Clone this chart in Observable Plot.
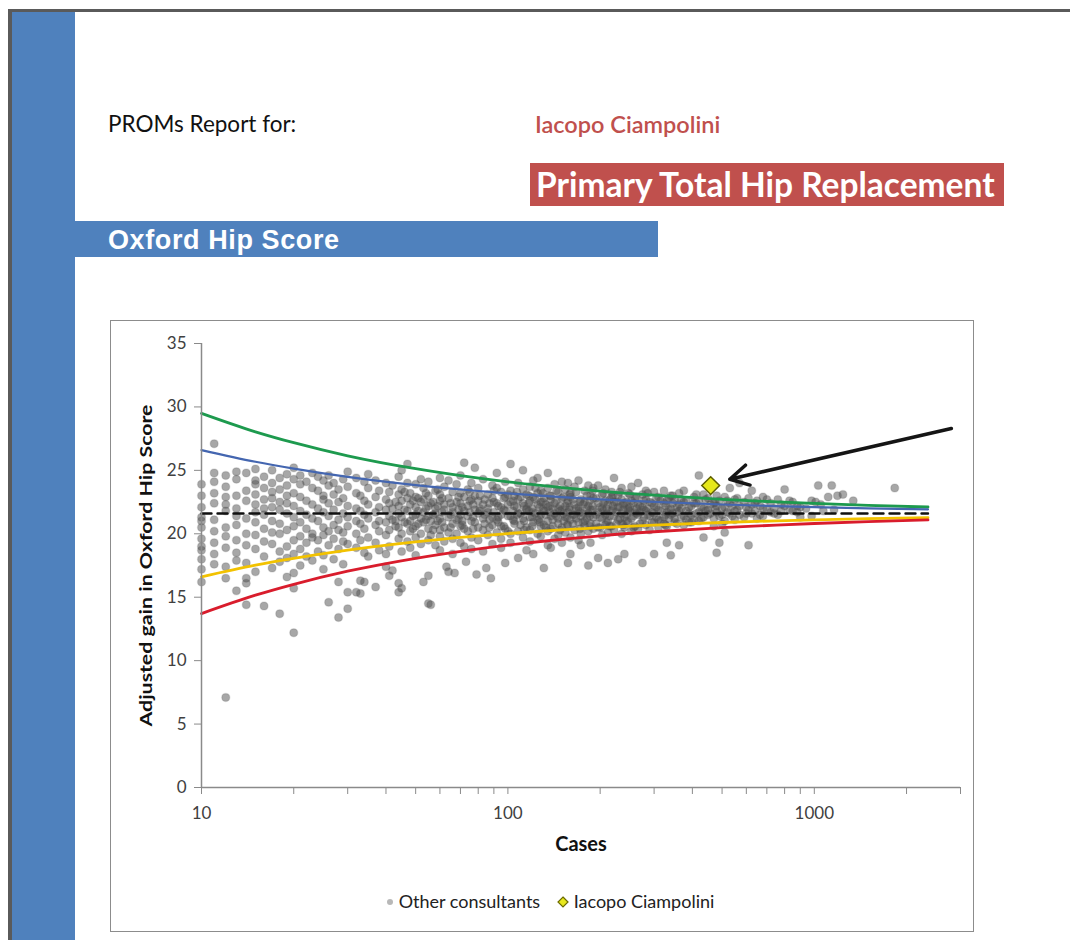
<!DOCTYPE html>
<html>
<head>
<meta charset="utf-8">
<script src="https://cdn.jsdelivr.net/npm/d3@7"></script>
<script src="https://cdn.jsdelivr.net/npm/@observablehq/plot@0.6"></script>
<style>
  html, body { margin: 0; padding: 0; background: #fff; }
  body { width: 1070px; height: 940px; position: relative; overflow: hidden; font-family: "Lato", "Open Sans", sans-serif; }
  .abs { position: absolute; }
  #topline { left: 9px; top: 9px; width: 1061px; height: 3px; background: #5a5a5a; }
  #leftline { left: 8px; top: 9px; width: 4px; height: 931px; background: #5a5a5a; }
  #stripe { left: 12px; top: 12px; width: 63px; height: 928px; background: #4f81bd; }
  #proms { left: 108px; top: 113px; font-size: 22.5px; color: #111; line-height: 1; }
  #name { left: 535px; top: 113px; font-size: 23.5px; color: #c0504d; font-weight: 600; line-height: 1; }
  #proc { left: 530px; top: 163px; width: 474px; height: 43px; background: #c0504d; color: #fff; font-weight: 700; font-size: 33.5px; line-height: 43px; padding-left: 6px; box-sizing: border-box; white-space: nowrap; }
  #score { left: 75px; top: 221px; width: 583px; height: 36px; background: #4f81bd; color: #fff; font-family: "Liberation Sans", Arial, sans-serif; font-weight: 700; font-size: 27px; letter-spacing: 0.6px; line-height: 38px; padding-left: 33px; box-sizing: border-box; }
  #frame { left: 110px; top: 320px; width: 864px; height: 612px; border: 1px solid #8c8c8c; box-sizing: border-box; }
  #chart { left: 110px; top: 320px; }
  #legend { left: 100px; top: 890px; width: 900px; text-align: center; font-size: 18px; color: #222; white-space: nowrap; }
  #legend span.item { margin: 0 6px; }
  #legend svg { vertical-align: middle; margin-right: 5px; position: relative; top: -1px; }
</style>
</head>
<body>
<div class="abs" id="topline"></div>
<div class="abs" id="leftline"></div>
<div class="abs" id="stripe"></div>
<div class="abs" id="proms">PROMs Report for:</div>
<div class="abs" id="name">Iacopo Ciampolini</div>
<div class="abs" id="proc">Primary Total Hip Replacement</div>
<div class="abs" id="score">Oxford Hip Score</div>
<div class="abs" id="frame"></div>
<div class="abs" id="chart"></div>
<div class="abs" id="legend">
  <span class="item"><svg width="8" height="8"><circle cx="4" cy="4" r="3" fill="#9a9a9a" fill-opacity="0.7"></circle></svg>Other consultants</span>
  <span class="item"><svg width="12" height="12"><path d="M6,1L11,6L6,11L1,6Z" fill="#e8e81e" stroke="#6b6b00" stroke-width="1.2"></path></svg>Iacopo Ciampolini</span>
</div>
<script>
// ---- Data ----
const xTickValues = [10,20,30,40,50,60,70,80,90,100,200,300,400,500,600,700,800,900,1000,2000,3000];
const xTickLabels = [10, 100, 1000];
const yTickValues = [0, 5, 10, 15, 20, 25, 30, 35];
const xTitle = "Cases";
const yTitle = "Adjusted gain in Oxford Hip Score";

const meanGain = 21.6;
const limitCases = [10, 15, 20, 30, 50, 75, 100, 150, 200, 300, 500, 750, 1000, 1500, 2350];
const upper998 = [29.49, 28.04, 27.18, 26.15, 25.13, 24.48, 24.09, 23.64, 23.36, 23.04, 22.72, 22.51, 22.39, 22.24, 22.11];
const upper95  = [26.60, 25.68, 25.14, 24.49, 23.84, 23.43, 23.18, 22.89, 22.72, 22.51, 22.31, 22.18, 22.10, 22.01, 21.93];
const lower95  = [16.60, 17.52, 18.06, 18.71, 19.36, 19.77, 20.02, 20.31, 20.48, 20.69, 20.89, 21.02, 21.10, 21.19, 21.27];
const lower998 = [13.71, 15.16, 16.02, 17.05, 18.07, 18.72, 19.11, 19.56, 19.84, 20.16, 20.48, 20.69, 20.81, 20.96, 21.09];

const surgeonName = "Iacopo Ciampolini";
const surgeonCases = [459];
const surgeonGain = [23.8];

// arrow annotation (tail -> head), in data units
const arrowFrom = [2800, 28.3];
const arrowTo = [530, 24.3];

// other consultants: [cases, [adjusted gains ...]]
const otherConsultants = [
  [10, [23.9, 23.0, 22.1, 21.3, 20.5, 19.6, 18.7, 18.0, 17.2, 16.2, 19.0, 21.0]],
  [11, [27.1, 24.1, 23.2, 22.4, 21.1, 20.2, 19.3, 18.4, 17.6, 24.8]],
  [12, [24.6, 23.7, 22.9, 21.8, 20.5, 19.8, 18.9, 17.4, 16.5, 7.1, 22.3]],
  [13, [24.3, 23.0, 22.0, 21.4, 20.7, 19.5, 18.5, 17.9, 15.5, 24.9]],
  [14, [24.8, 23.4, 22.6, 21.2, 20.0, 19.1, 17.7, 16.1, 14.4, 16.5]],
  [15, [24.2, 23.1, 22.3, 21.7, 20.9, 19.9, 18.8, 17.0, 23.9, 25.1]],
  [16, [24.5, 23.6, 22.7, 21.5, 20.4, 19.4, 18.2, 14.3, 22.0]],
  [17, [24.0, 22.8, 22.1, 21.0, 20.1, 19.2, 17.3, 25.0, 23.3]],
  [18, [24.4, 23.5, 22.5, 21.9, 20.8, 20.0, 18.6, 13.7, 17.8]],
  [19, [24.7, 23.8, 22.4, 21.6, 20.3, 19.0, 18.1, 16.6, 23.0]],
  [20, [24.3, 23.2, 22.2, 21.3, 20.6, 19.5, 18.4, 16.9, 15.7, 12.2, 25.2]],
  [21, [23.9, 22.9, 21.8, 20.9, 19.8, 18.8, 17.5, 24.6]],
  [22, [24.1, 22.6, 21.5, 20.4, 19.3, 18.2]],
  [23, [23.6, 22.3, 21.2, 20.0, 19.7, 17.9, 24.8]],
  [24, [24.5, 23.4, 22.0, 21.0, 19.5, 18.6]],
  [25, [24.2, 23.0, 22.7, 21.7, 20.5, 19.9, 18.3, 17.2]],
  [26, [23.8, 22.4, 21.4, 20.2, 19.1, 14.6, 24.6]],
  [27, [24.0, 23.1, 21.9, 20.7, 19.6, 18.0]],
  [28, [23.5, 22.5, 21.1, 20.3, 18.8, 13.4, 16.2]],
  [29, [24.3, 22.8, 21.6, 20.1, 19.4, 17.6]],
  [30, [23.7, 22.2, 21.3, 20.6, 19.2, 15.4, 14.1, 24.9]],
  [32, [24.4, 23.2, 22.0, 21.0, 20.0, 18.9, 15.4]],
  [33, [23.0, 21.8, 20.8, 19.5, 16.3, 15.3]],
  [34, [24.1, 22.6, 21.5, 20.4, 18.5, 16.2]],
  [35, [23.6, 22.3, 21.2, 19.7, 18.2, 24.7]],
  [37, [24.2, 22.9, 21.7, 20.7, 19.3, 15.8]],
  [38, [23.4, 22.1, 21.0, 20.2, 18.7]],
  [40, [24.0, 22.7, 21.9, 20.9, 19.9, 18.4, 17.4]],
  [41, [23.3, 22.4, 21.4, 20.3, 19.0, 16.7]],
  [42, [23.8, 22.0, 21.1, 17.1]],
  [44, [24.5, 23.1, 22.2, 21.6, 20.5, 19.6, 16.1, 15.4]],
  [45, [25.0, 23.5, 22.6, 21.3, 20.0, 18.6, 15.7]],
  [47, [25.5, 24.0, 22.8, 21.8, 20.8, 19.4]],
  [48, [23.2, 22.3, 21.0, 20.2, 18.9]],
  [50, [23.9, 22.9, 22.1, 21.5, 20.6, 19.7, 18.3]],
  [52, [24.3, 22.5, 21.2, 20.0, 19.2]],
  [53, [23.6, 22.7, 21.7, 20.9, 16.2]],
  [55, [24.1, 23.0, 22.2, 21.4, 20.4, 19.5, 16.7, 14.5]],
  [56, [22.4, 21.0, 19.9, 14.4]],
  [58, [23.4, 22.0, 21.6, 20.7, 19.1]],
  [60, [24.4, 23.1, 22.6, 21.2, 20.3, 19.8, 18.7]],
  [62, [23.7, 22.3, 21.9, 20.5, 19.4]],
  [63, [17.4]],
  [64, [24.2, 22.8, 21.3, 20.1, 17.0]],
  [66, [23.3, 22.1, 21.7, 20.8, 19.6, 18.4]],
  [67, [16.9]],
  [68, [23.9, 22.5, 21.1, 20.0]],
  [70, [24.6, 23.2, 22.4, 21.5, 20.6, 19.3]],
  [72, [25.6, 22.9, 21.8, 20.4, 19.0]],
  [73, [17.8]],
  [74, [23.5, 22.2, 21.4, 20.2]],
  [76, [24.0, 22.7, 21.0, 19.7, 18.8]],
  [78, [25.2, 23.0, 21.9, 20.9]],
  [79, [16.8]],
  [80, [23.6, 22.6, 21.6, 20.5, 19.5]],
  [83, [24.3, 22.3, 21.2, 20.3, 18.6]],
  [85, [17.3]],
  [86, [23.1, 22.0, 21.7, 19.9]],
  [88, [16.5]],
  [89, [23.8, 22.8, 21.3, 20.7, 19.2]],
  [92, [24.8, 23.6, 22.4, 21.1, 20.1]],
  [95, [23.3, 22.1, 21.5, 20.6, 19.6, 18.9]],
  [98, [24.1, 22.9, 21.8, 20.4, 17.7]],
  [102, [25.5, 23.4, 22.5, 21.4, 20.0, 19.3]],
  [105, [23.0, 22.2, 21.0, 20.8]],
  [108, [24.0, 22.7, 21.6, 20.2, 18.1]],
  [112, [25.0, 23.5, 22.4, 21.2, 19.7]],
  [115, [23.1, 22.0, 21.9, 20.5, 18.7]],
  [118, [23.7, 22.6, 21.3, 20.3, 19.4]],
  [121, [24.2, 22.9, 21.7, 20.9, 18.4]],
  [125, [24.4, 23.2, 22.3, 21.1, 20.0]],
  [128, [23.4, 22.5, 21.5, 20.6, 19.8]],
  [131, [22.8, 21.8, 20.7, 17.3]],
  [135, [24.8, 23.6, 22.1, 21.0, 20.2, 19.1]],
  [138, [23.0, 22.7, 21.4, 20.4, 18.9]],
  [142, [23.9, 22.4, 21.6, 19.6]],
  [146, [23.3, 22.0, 21.2, 20.8, 19.9]],
  [150, [24.1, 22.8, 21.9, 20.5, 19.3]],
  [154, [23.5, 22.2, 21.3, 20.1]],
  [157, [24.0, 22.6, 21.7, 20.7, 17.7]],
  [160, [23.2, 22.9, 21.1, 19.7, 18.4]],
  [165, [23.7, 22.3, 21.5, 20.3]],
  [170, [24.2, 22.1, 21.8, 20.9, 19.5]],
  [173, [22.7, 21.4, 20.0, 19.1]],
  [178, [23.4, 22.5, 21.0, 20.6]],
  [183, [23.8, 22.2, 21.6, 20.2, 17.5]],
  [186, [23.0, 21.9, 20.8, 19.3]],
  [190, [23.6, 22.8, 21.3, 20.4]],
  [197, [23.8, 22.4, 21.7, 20.5, 18.1]],
  [203, [23.1, 22.0, 21.2, 19.9]],
  [208, [23.5, 22.6, 21.5, 20.7]],
  [212, [22.3, 21.0, 20.1, 17.7]],
  [218, [23.3, 22.9, 21.8, 20.6]],
  [222, [24.4, 22.5, 21.4, 20.3]],
  [229, [23.0, 22.1, 21.1, 18.0]],
  [235, [23.6, 22.7, 21.6, 20.8, 20.0]],
  [240, [22.4, 21.3, 20.5, 18.4]],
  [247, [23.2, 22.0, 21.9, 20.9]],
  [253, [23.7, 22.6, 21.2, 20.2]],
  [260, [22.8, 21.7, 20.6]],
  [266, [24.0, 22.3, 21.5, 20.4]],
  [275, [23.1, 22.1, 21.0, 17.7]],
  [282, [23.4, 22.7, 21.8, 20.7]],
  [290, [22.5, 21.4, 20.3]],
  [300, [23.3, 22.2, 21.6, 20.9, 18.4]],
  [310, [22.9, 21.9, 21.1, 20.5]],
  [323, [23.4, 22.4, 21.3, 20.8]],
  [330, [22.6, 21.7, 20.6, 19.3]],
  [340, [23.0, 22.0, 21.5, 18.3]],
  [350, [22.7, 21.2, 20.9]],
  [362, [23.2, 22.3, 21.8, 19.1]],
  [375, [23.4, 22.5, 21.4, 20.7]],
  [390, [22.1, 21.6, 20.9]],
  [405, [22.9, 22.4, 21.1]],
  [420, [24.6, 22.6, 21.7, 21.0]],
  [435, [23.1, 22.0, 21.3, 19.7]],
  [450, [22.8, 21.9, 21.5]],
  [470, [22.4, 21.2, 20.6]],
  [480, [23.0, 22.2, 21.7, 18.5]],
  [490, [22.6, 21.4, 19.3]],
  [510, [22.9, 22.1, 21.0, 20.1]],
  [530, [23.6, 22.4, 21.6]],
  [550, [22.7, 21.8, 21.1]],
  [570, [24.0, 22.2, 21.5]],
  [590, [22.5, 21.3]],
  [610, [22.8, 21.9, 19.1]],
  [625, [23.4, 22.3, 21.6]],
  [650, [22.6, 21.2]],
  [680, [22.9, 22.0, 21.4]],
  [720, [22.4, 21.7]],
  [760, [22.7, 21.5]],
  [800, [23.5, 22.2]],
  [850, [22.5, 21.8]],
  [900, [22.1, 21.3]],
  [980, [21.4, 22.6]],
  [1010, [22.5]],
  [1030, [23.8]],
  [1070, [21.8]],
  [1110, [22.9]],
  [1140, [23.8]],
  [1190, [23.0]],
  [1240, [23.1]],
  [1340, [22.6]],
  [1830, [23.6]]
];

// further consultants in the dense core of the funnel: [cases, [adjusted gains ...]]
const otherConsultantsCore = [
  [43, [22.5, 21.0, 20.6]], [46, [21.9, 20.9, 23.3]], [49, [22.6, 21.4, 20.4]],
  [51, [21.8, 22.8, 20.8]], [54, [22.0, 21.1, 23.2]], [57, [21.5, 22.5, 20.3]],
  [59, [22.2, 21.0, 23.5]], [61, [21.7, 22.8, 20.9]], [65, [22.4, 21.5, 20.5]],
  [69, [21.9, 22.9, 21.2]], [71, [22.1, 21.0, 20.7]], [75, [22.6, 21.7, 23.3]],
  [77, [21.3, 22.3, 20.4]], [81, [22.0, 21.8, 23.0]], [84, [21.5, 22.7, 20.8]],
  [87, [22.4, 21.1, 20.5]], [90, [21.7, 22.5, 23.4]], [93, [22.2, 21.3, 20.9]],
  [97, [21.9, 22.8, 20.6]], [100, [22.3, 21.4, 23.1, 20.2]], [104, [21.8, 22.6, 21.1]],
  [107, [22.1, 21.5, 23.3]], [110, [21.6, 22.9, 20.7]], [113, [22.2, 21.0, 20.3]],
  [117, [21.8, 22.4, 23.0]], [120, [22.0, 21.3, 20.6]], [123, [21.6, 22.7, 23.6]],
  [127, [22.1, 21.2, 20.9]], [130, [21.9, 22.5, 23.2]], [133, [22.3, 21.5, 20.5]],
  [137, [21.7, 22.2, 23.0]], [140, [22.0, 21.1, 20.6]], [144, [21.4, 22.6, 23.4]],
  [148, [22.2, 21.8, 20.3]], [152, [21.6, 22.9, 21.0]], [156, [22.4, 21.3, 20.7]],
  [159, [21.9, 22.1, 23.1]], [163, [21.5, 22.7, 20.8]], [167, [22.0, 21.2, 23.3]],
  [172, [21.7, 22.5, 20.4]], [176, [22.3, 21.6, 20.9]], [181, [21.2, 22.0, 23.0]],
  [185, [22.6, 21.4, 20.6]], [189, [21.9, 22.2, 23.4]], [194, [21.5, 22.8, 20.8]],
  [200, [22.1, 21.3, 20.5]], [205, [21.8, 22.4, 23.2]], [210, [22.0, 21.6, 20.9]],
  [215, [21.4, 22.7, 20.6]], [220, [22.2, 21.9, 23.0]], [226, [21.7, 22.5, 20.8]],
  [232, [22.1, 21.2, 23.3]], [238, [21.9, 22.3, 20.7]], [244, [22.5, 21.5, 21.0]],
  [250, [21.8, 22.1, 23.1]], [257, [22.4, 21.4, 20.5]], [263, [21.6, 22.0, 22.9]],
  [270, [22.2, 21.7, 20.8]], [278, [21.9, 22.6, 21.3]], [286, [22.0, 21.5, 23.2]],
  [295, [21.7, 22.4, 20.9]], [305, [22.1, 21.3, 22.8]], [315, [21.8, 22.6, 21.0]],
  [327, [22.2, 21.5, 20.7]], [335, [21.9, 22.8, 21.2]], [345, [22.4, 21.6, 23.0]],
  [356, [21.7, 22.1, 20.8]], [368, [22.0, 21.3, 22.7]], [382, [21.8, 22.6, 21.1]],
  [397, [22.2, 21.5, 20.9]], [412, [21.6, 22.4, 23.1]], [428, [22.1, 21.2]],
  [442, [21.8, 22.7]], [458, [22.3, 21.6]], [475, [21.9, 22.5]],
  [500, [22.0, 21.5, 20.8]], [520, [21.7, 22.6]], [540, [22.2, 21.4]],
  [560, [21.9, 22.8]], [600, [22.1, 21.6]], [640, [21.8, 22.4]],
  [665, [22.2, 21.5]], [700, [21.9, 22.7]], [740, [22.0, 21.6]],
  [780, [22.3, 21.8]], [830, [21.9, 22.6]], [880, [22.2, 21.7]],
  [940, [22.0]], [1050, [22.3]], [1160, [21.9]]
];

// ---- Build tables for the marks ----
const otherRows = otherConsultants.concat(otherConsultantsCore)
  .flatMap(([cases, gains]) => gains.map(g => ({cases, gain: g})));
const limitRows = (vals) => limitCases.map((c, i) => ({cases: c, gain: vals[i]}));
const meanRows = limitCases.map(c => ({cases: c, gain: meanGain}));
const surgeonRows = surgeonCases.map((c, i) => ({cases: c, gain: surgeonGain[i]}));
const arrowRows = [{x1: arrowFrom[0], y1: arrowFrom[1], x2: arrowTo[0], y2: arrowTo[1]}];

const chart = Plot.plot({
  width: 864,
  height: 560,
  marginLeft: 91,
  marginRight: 14,
  marginTop: 23,
  marginBottom: 93,
  style: {fontFamily: "Lato, 'Open Sans', sans-serif", fontSize: "17px", color: "#404040", background: "transparent", overflow: "visible"},
  x: {type: "log", domain: [10, 3000]},
  y: {domain: [0, 35]},
  marks: [
    Plot.dot(otherRows, {x: "cases", y: "gain", r: 4, fill: "#505050", fillOpacity: 0.5, stroke: "#505050", strokeOpacity: 0.15}),
    Plot.line(limitRows(upper998), {x: "cases", y: "gain", stroke: "#1d9a4e", strokeWidth: 2.8, curve: "monotone-x"}),
    Plot.line(limitRows(upper95), {x: "cases", y: "gain", stroke: "#4466b0", strokeWidth: 2.2, curve: "monotone-x"}),
    Plot.line(limitRows(lower95), {x: "cases", y: "gain", stroke: "#f2c200", strokeWidth: 2.8, curve: "monotone-x"}),
    Plot.line(limitRows(lower998), {x: "cases", y: "gain", stroke: "#d91c2c", strokeWidth: 2.8, curve: "monotone-x"}),
    Plot.line(meanRows, {x: "cases", y: "gain", stroke: "#111", strokeWidth: 2.4, strokeDasharray: "10,6"}),
    Plot.dot(surgeonRows, {x: "cases", y: "gain", symbol: "diamond2", r: 8, fill: "#e6e81a", stroke: "#5e5e00", strokeWidth: 1.5}),
    Plot.arrow(arrowRows, {x1: "x1", y1: "y1", x2: "x2", y2: "y2", stroke: "#151515", strokeWidth: 3.5, headLength: 9, headAngle: 58}),
    Plot.ruleX([10], {stroke: "#8a8a8a", strokeWidth: 1.5}),
    Plot.ruleY([0], {stroke: "#8a8a8a", strokeWidth: 1.5}),
    Plot.axisY({ticks: yTickValues, tickSize: 7, tickPadding: 8, label: null, stroke: "#8a8a8a"}),
    Plot.axisX({ticks: xTickValues, tickSize: 7, tickPadding: 12, label: null, stroke: "#8a8a8a",
      tickFormat: d => xTickLabels.includes(d) ? String(d) : ""}),
    Plot.text([yTitle], {frameAnchor: "left", rotate: -90, dx: -55, textAnchor: "middle", fontWeight: "bold", fontSize: 17, fill: "#111"}),
    Plot.text([xTitle], {frameAnchor: "bottom", dy: 63, fontWeight: "bold", fontSize: 20, fill: "#111"})
  ]
});
document.getElementById("chart").appendChild(chart);
// stretch the y-axis title to the reference's length
chart.querySelectorAll("text").forEach(t => {
  if (t.textContent === yTitle) { t.setAttribute("textLength", 322); t.setAttribute("lengthAdjust", "spacingAndGlyphs"); }
});
</script>
</body>
</html>
